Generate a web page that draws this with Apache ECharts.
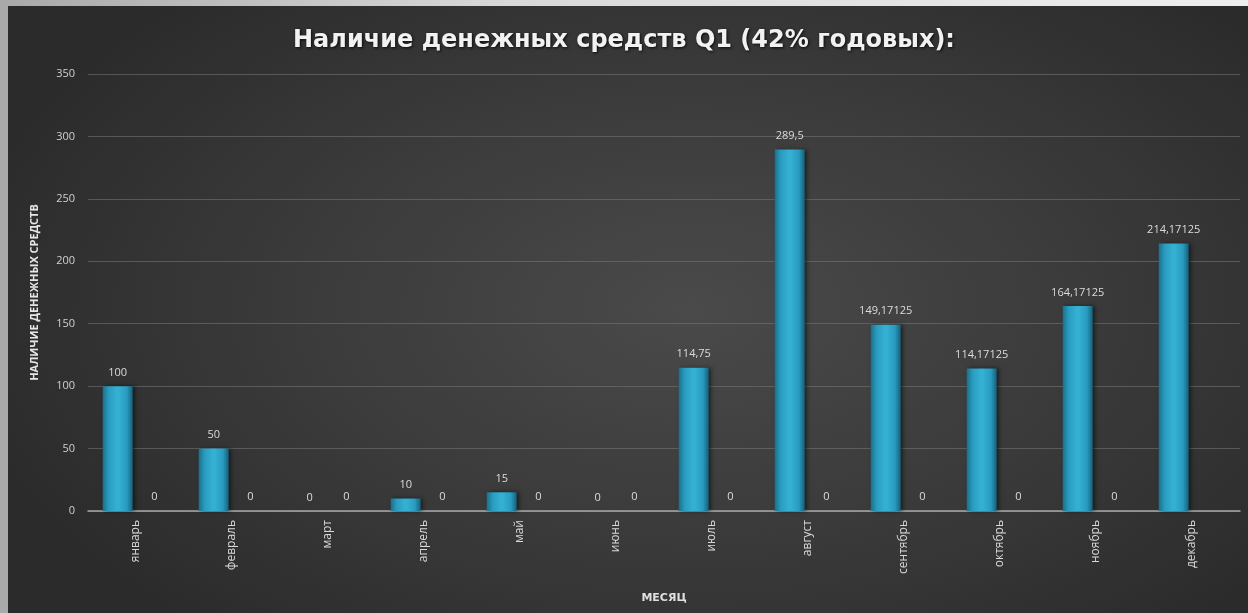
<!DOCTYPE html>
<html>
<head>
<meta charset="utf-8">
<script src="https://cdn.jsdelivr.net/npm/echarts@6/dist/echarts.min.js"></script>
<style>
html,body{margin:0;padding:0;width:1248px;height:613px;overflow:hidden;
  background:linear-gradient(90deg,#a9a9a9 0%,#d8d8d8 40%,#eeeeee 100%);}
#panel{position:absolute;left:8px;top:6px;width:1240px;height:607px;
  background:radial-gradient(ellipse 60% 70% at 55% 50%,#4a4a4a 0%,#3a3a3a 55%,#2b2b2b 100%);}
#chart{position:absolute;left:0;top:0;width:1248px;height:613px;}
</style>
</head>
<body>
<div id="panel"></div>
<div id="chart"></div>
<script>
const categories = ['январь','февраль','март','апрель','май','июнь','июль','август','сентябрь','октябрь','ноябрь','декабрь'];
const cashValues = [100, 50, 0, 10, 15, 0, 114.75, 289.5, 149.17125, 114.17125, 164.17125, 214.17125];
const secondValues = [0, 0, 0, 0, 0, 0, 0, 0, 0, 0, 0, null];
const yTicks = {min: 0, max: 350, interval: 50};
const titleText = 'Наличие денежных средств Q1 (42% годовых):';
const yAxisName = 'НАЛИЧИЕ ДЕНЕЖНЫХ СРЕДСТВ';
const xAxisName = 'МЕСЯЦ';

const fmt = p => (p.value === null || p.value === undefined) ? '' : String(p.value).replace('.', ',');
const barColor = new echarts.graphic.LinearGradient(0,0,1,0,[
  {offset:0,color:'#1b6f8c'},{offset:0.2,color:'#2a9cbf'},{offset:0.5,color:'#35b2d6'},
  {offset:0.8,color:'#2a9cbf'},{offset:1,color:'#16607a'}]);

const chart = echarts.init(document.getElementById('chart'), null, {renderer:'canvas'});
chart.setOption({
  backgroundColor:'transparent',
  animation:false,
  title:{text:titleText,left:'center',top:24,
    textStyle:{color:'#f2f2f2',fontFamily:'DejaVu Sans',fontWeight:'bold',fontSize:24,
      textShadowColor:'rgba(0,0,0,0.8)',textShadowBlur:3,textShadowOffsetX:1,textShadowOffsetY:1}},
  grid:{left:88,right:8,top:74,bottom:102,containLabel:false},
  xAxis:{type:'category',data:categories,
    name:xAxisName,nameLocation:'middle',nameGap:82,
    nameTextStyle:{color:'#e0e0e0',fontFamily:'DejaVu Sans',fontWeight:'bold',fontSize:11},
    axisLine:{lineStyle:{color:'#a8a8a8',width:1.5}},
    axisTick:{show:false},
    axisLabel:{rotate:90,color:'#d8d8d8',fontFamily:'Open Sans',fontSize:12,margin:9,interval:0}},
  yAxis:{type:'value',min:yTicks.min,max:yTicks.max,interval:yTicks.interval,
    name:yAxisName,nameLocation:'middle',nameGap:48,nameRotate:90,
    nameTextStyle:{color:'#e6e6e6',fontFamily:'Open Sans',fontWeight:'bold',fontSize:11},
    axisLine:{show:false},axisTick:{show:false},
    axisLabel:{color:'#d0d0d0',fontFamily:'Open Sans',fontSize:11,margin:13},
    splitLine:{lineStyle:{color:'rgba(120,120,120,0.55)',width:1}}},
  series:[
    {type:'bar',data:cashValues,barWidth:30,barGap:'22%',
      itemStyle:{color:barColor,shadowColor:'rgba(0,0,0,0.5)',shadowBlur:4,shadowOffsetX:2},
      label:{show:true,position:'top',distance:8,color:'#dcdcdc',fontFamily:'Open Sans',fontSize:11,formatter:fmt}},
    {type:'bar',data:secondValues,barWidth:30,
      itemStyle:{color:barColor},
      label:{show:true,position:'top',distance:9,color:'#dcdcdc',fontFamily:'Open Sans',fontSize:11,formatter:fmt}}
  ]
});
</script>
</body>
</html>
